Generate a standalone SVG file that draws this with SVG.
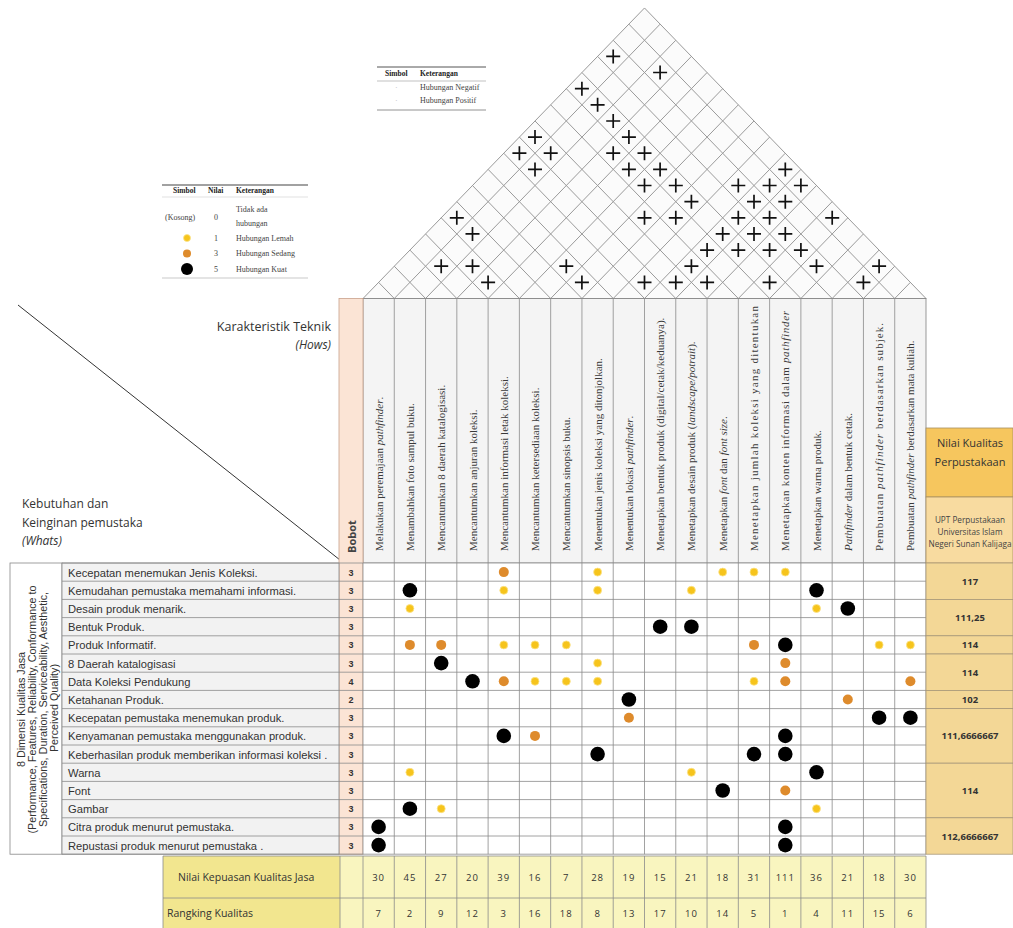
<svg xmlns="http://www.w3.org/2000/svg" width="1013" height="928" viewBox="0 0 1013 928">
<style>
.ser{font-family:"Liberation Serif","Times New Roman",serif}
.sans{font-family:"Open Sans","Liberation Sans",sans-serif}
.ar{font-family:"Liberation Sans",Arial,sans-serif}
.hdr{font-size:11px;fill:#3a3a3a}
.row{font-size:11.2px;fill:#333}
.num{font-size:9.5px;fill:#333;text-anchor:middle;letter-spacing:1px}
.bob{font-size:9px;font-weight:bold;fill:#333;text-anchor:middle}
.val{font-size:9.5px;font-weight:bold;fill:#333;text-anchor:middle}
.leg{font-size:8px;fill:#444}
.legb{font-size:7.5px;fill:#222;font-weight:bold}
.grid{stroke:#8a8a8a;stroke-width:0.8;fill:none}
.b{fill:#000}
.o{fill:#de8b2c}
.y{fill:#f6c41c;stroke:#fbe38a;stroke-width:0.8}
.i{font-style:italic}
</style>
<defs>
<path id="p" d="M-7 0H7M0 -7V7" stroke="#111" stroke-width="1.7" fill="none"/>
</defs>
<rect width="1013" height="928" fill="#fff"/>

<!-- Roof -->
<g id="roof">
<g transform="translate(363,298.5) scale(31.278,32.28)">
<path d="M0 0L9 -9L18 0Z" fill="#fbfbfb" stroke="#999" stroke-width="1" vector-effect="non-scaling-stroke"/>
<path fill="none" stroke="#9a9a9a" stroke-width="1" vector-effect="non-scaling-stroke" d="M1 0L9.5 -8.5M2 0L10 -8M3 0L10.5 -7.5M4 0L11 -7M5 0L11.5 -6.5M6 0L12 -6M7 0L12.5 -5.5M8 0L13 -5M9 0L13.5 -4.5M10 0L14 -4M11 0L14.5 -3.5M12 0L15 -3M13 0L15.5 -2.5M14 0L16 -2M15 0L16.5 -1.5M16 0L17 -1M17 0L17.5 -0.5M1 0L0.5 -0.5M2 0L1 -1M3 0L1.5 -1.5M4 0L2 -2M5 0L2.5 -2.5M6 0L3 -3M7 0L3.5 -3.5M8 0L4 -4M9 0L4.5 -4.5M10 0L5 -5M11 0L5.5 -5.5M12 0L6 -6M13 0L6.5 -6.5M14 0L7 -7M15 0L7.5 -7.5M16 0L8 -8M17 0L8.5 -8.5"/>
</g>
<use href="#p" x="613.2" y="56.4"/>
<use href="#p" x="660.1" y="72.5"/>
<use href="#p" x="581.9" y="88.7"/>
<use href="#p" x="597.6" y="104.8"/>
<use href="#p" x="613.2" y="121"/>
<use href="#p" x="535" y="137.1"/>
<use href="#p" x="628.9" y="137.1"/>
<use href="#p" x="519.4" y="153.2"/>
<use href="#p" x="550.7" y="153.2"/>
<use href="#p" x="613.2" y="153.2"/>
<use href="#p" x="644.5" y="153.2"/>
<use href="#p" x="535" y="169.4"/>
<use href="#p" x="628.9" y="169.4"/>
<use href="#p" x="660.1" y="169.4"/>
<use href="#p" x="785.3" y="169.4"/>
<use href="#p" x="644.5" y="185.5"/>
<use href="#p" x="675.8" y="185.5"/>
<use href="#p" x="738.3" y="185.5"/>
<use href="#p" x="769.6" y="185.5"/>
<use href="#p" x="800.9" y="185.5"/>
<use href="#p" x="691.4" y="201.7"/>
<use href="#p" x="754" y="201.7"/>
<use href="#p" x="785.3" y="201.7"/>
<use href="#p" x="644.5" y="217.8"/>
<use href="#p" x="675.8" y="217.8"/>
<use href="#p" x="738.3" y="217.8"/>
<use href="#p" x="769.6" y="217.8"/>
<use href="#p" x="832.2" y="217.8"/>
<use href="#p" x="456.8" y="217.8"/>
<use href="#p" x="472.5" y="233.9"/>
<use href="#p" x="722.7" y="233.9"/>
<use href="#p" x="754" y="233.9"/>
<use href="#p" x="785.3" y="233.9"/>
<use href="#p" x="707.1" y="250.1"/>
<use href="#p" x="738.3" y="250.1"/>
<use href="#p" x="769.6" y="250.1"/>
<use href="#p" x="800.9" y="250.1"/>
<use href="#p" x="441.2" y="266.2"/>
<use href="#p" x="472.5" y="266.2"/>
<use href="#p" x="566.3" y="266.2"/>
<use href="#p" x="691.4" y="266.2"/>
<use href="#p" x="816.5" y="266.2"/>
<use href="#p" x="879.1" y="266.2"/>
<use href="#p" x="488.1" y="282.4"/>
<use href="#p" x="581.9" y="282.4"/>
<use href="#p" x="644.5" y="282.4"/>
<use href="#p" x="675.8" y="282.4"/>
<use href="#p" x="707.1" y="282.4"/>
<use href="#p" x="769.6" y="282.4"/>
<use href="#p" x="863.4" y="282.4"/>
</g>

<!-- Correlation legend -->
<g id="legend-correlation" class="ser">
<path d="M377 67H486" stroke="#555" stroke-width="1"/>
<path d="M377 81H486" stroke="#999" stroke-width="0.6"/>
<path d="M377 110H486" stroke="#777" stroke-width="0.8"/>
<text x="385" y="76" class="legb">Simbol</text>
<text x="420" y="76" class="legb">Keterangan</text>
<text x="395" y="90" class="leg" style="fill:#bbb">·</text>
<text x="420" y="90" class="leg">Hubungan Negatif</text>
<text x="395" y="103" class="leg" style="fill:#bbb">·</text>
<text x="420" y="103" class="leg">Hubungan Positif</text>
</g>

<!-- Relationship legend -->
<g id="legend-relationship" class="ser">
<path d="M162 185H308" stroke="#444" stroke-width="1.2"/>
<path d="M162 197H308" stroke="#ccc" stroke-width="0.6"/>
<path d="M162 278H308" stroke="#bbb" stroke-width="0.8"/>
<text x="173" y="193" class="legb">Simbol</text>
<text x="208" y="193" class="legb">Nilai</text>
<text x="236" y="193" class="legb">Keterangan</text>
<text x="165" y="220" class="leg">(Kosong)</text>
<text x="214" y="220" class="leg">0</text>
<text x="236" y="212" class="leg">Tidak ada</text>
<text x="236" y="226" class="leg">hubungan</text>
<circle cx="187" cy="238" r="3.5" class="y"/>
<text x="214" y="240.5" class="leg">1</text>
<text x="236" y="240.5" class="leg">Hubungan Lemah</text>
<circle cx="187" cy="253.5" r="4" class="o"/>
<text x="214" y="256" class="leg">3</text>
<text x="236" y="256" class="leg">Hubungan Sedang</text>
<circle cx="187" cy="269" r="6" class="b"/>
<text x="214" y="271.5" class="leg">5</text>
<text x="236" y="271.5" class="leg">Hubungan Kuat</text>
</g>

<!-- Corner labels -->
<g id="corner" class="sans">
<path d="M18 305L340 560" stroke="#333" stroke-width="1" fill="none"/>
<text x="331" y="331" font-size="12.5" fill="#333" text-anchor="end">Karakteristik Teknik</text>
<text x="331" y="349" font-size="12" fill="#333" text-anchor="end" font-style="italic">(Hows)</text>
<text x="22" y="508" font-size="12" fill="#333">Kebutuhan dan</text>
<text x="22" y="527" font-size="12" fill="#333">Keinginan pemustaka</text>
<text x="22" y="545" font-size="12" fill="#333" font-style="italic">(Whats)</text>
</g>

<!-- Header (Hows) -->
<g id="header">
<rect x="363" y="298.5" width="563" height="264.5" fill="#f4f4f4" stroke="#808080" stroke-width="0.8"/>
<path class="grid" stroke="#808080" d="M394.28 298.5V563M425.56 298.5V563M456.83 298.5V563M488.11 298.5V563M519.39 298.5V563M550.67 298.5V563M581.94 298.5V563M613.22 298.5V563M644.5 298.5V563M675.78 298.5V563M707.06 298.5V563M738.33 298.5V563M769.61 298.5V563M800.89 298.5V563M832.17 298.5V563M863.44 298.5V563M894.72 298.5V563"/>
<g class="ser hdr">
<text x="382.6" y="551" transform="rotate(-90 382.6 551)">Melakukan peremajaan <tspan class="i">pathfinder</tspan>.</text>
<text x="413.9" y="551" transform="rotate(-90 413.9 551)">Menambahkan foto sampul buku.</text>
<text x="445.2" y="551" transform="rotate(-90 445.2 551)">Mencantumkan 8 daerah katalogisasi.</text>
<text x="476.5" y="551" transform="rotate(-90 476.5 551)">Mencantumkan anjuran koleksi.</text>
<text x="507.8" y="551" transform="rotate(-90 507.8 551)">Mencantumkan informasi letak koleksi.</text>
<text x="539" y="551" transform="rotate(-90 539 551)">Mencantumkan ketersediaan koleksi.</text>
<text x="570.3" y="551" transform="rotate(-90 570.3 551)">Mencantumkan sinopsis buku.</text>
<text x="601.6" y="551" transform="rotate(-90 601.6 551)">Menentukan jenis koleksi yang  ditonjolkan.</text>
<text x="632.9" y="551" transform="rotate(-90 632.9 551)">Menentukan lokasi <tspan class="i">pathfinder</tspan>.</text>
<text x="664.2" y="551" transform="rotate(-90 664.2 551)">Menetapkan bentuk produk (digital/cetak/keduanya).</text>
<text x="695.4" y="551" transform="rotate(-90 695.4 551)">Menetapkan desain produk (<tspan class="i">landscape/potrait</tspan>).</text>
<text x="726.7" y="551" transform="rotate(-90 726.7 551)">Menetapkan <tspan class="i">font</tspan> dan <tspan class="i">font size</tspan>.</text>
<text x="758" y="551" transform="rotate(-90 758 551)" textLength="245" lengthAdjust="spacing">Menetapkan jumlah koleksi yang ditentukan</text>
<text x="789.3" y="551" transform="rotate(-90 789.3 551)" textLength="240" lengthAdjust="spacing">Menetapkan konten informasi dalam <tspan class="i">pathfinder</tspan></text>
<text x="820.5" y="551" transform="rotate(-90 820.5 551)">Menetapkan warna produk.</text>
<text x="851.8" y="551" transform="rotate(-90 851.8 551)"><tspan class="i">Pathfinder</tspan> dalam bentuk cetak.</text>
<text x="883.1" y="551" transform="rotate(-90 883.1 551)" textLength="228" lengthAdjust="spacing">Pembuatan <tspan class="i">pathfinder</tspan> berdasarkan subjek.</text>
<text x="914.4" y="551" transform="rotate(-90 914.4 551)">Pembuatan <tspan class="i">pathfinder</tspan> berdasarkan mata kuliah.</text>
</g>
</g>

<!-- Bobot column -->
<g id="bobot">
<rect x="339" y="298.5" width="24" height="555.7" fill="#fbe4d5" stroke="#c9a08a" stroke-width="0.8"/>
<text x="355.5" y="553" transform="rotate(-90 355.5 553)" class="sans" font-size="11" font-weight="bold" fill="#444">Bobot</text>
<g class="ar bob">
<text x="351" y="575.5">3</text>
<text x="351" y="593.7">3</text>
<text x="351" y="611.9">3</text>
<text x="351" y="630.1">3</text>
<text x="351" y="648.3">3</text>
<text x="351" y="666.5">3</text>
<text x="351" y="684.7">4</text>
<text x="351" y="702.9">2</text>
<text x="351" y="721.1">3</text>
<text x="351" y="739.3">3</text>
<text x="351" y="757.5">3</text>
<text x="351" y="775.7">3</text>
<text x="351" y="793.9">3</text>
<text x="351" y="812.1">3</text>
<text x="351" y="830.3">3</text>
<text x="351" y="848.5">3</text>
</g>
</g>

<!-- Left table (Whats) -->
<g id="whats">
<rect x="10" y="563" width="52" height="291.2" fill="#fff" stroke="#888" stroke-width="0.8"/>
<rect x="62" y="563" width="277" height="291.2" fill="#f2f2f2" stroke="#888" stroke-width="0.8"/>
<text transform="translate(36,708) rotate(-90)" class="ar" font-size="10.8" fill="#333" text-anchor="middle">
<tspan x="0" y="-11">8 Dimensi Kualitas Jasa</tspan>
<tspan x="0" y="0">(Performance, Features, Reliability, Conformance to</tspan>
<tspan x="0" y="11">Specifications, Duration, Serviceability, Aesthetic,</tspan>
<tspan x="0" y="22">Perceived Quality)</tspan>
</text>
<g class="ar row">
<text x="68" y="576.5">Kecepatan menemukan Jenis Koleksi.</text>
<text x="68" y="594.7">Kemudahan pemustaka memahami informasi.</text>
<text x="68" y="612.9">Desain produk menarik.</text>
<text x="68" y="631.1">Bentuk Produk.</text>
<text x="68" y="649.3">Produk Informatif.</text>
<text x="68" y="667.5">8 Daerah katalogisasi</text>
<text x="68" y="685.7">Data Koleksi Pendukung</text>
<text x="68" y="703.9">Ketahanan Produk.</text>
<text x="68" y="722.1">Kecepatan pemustaka menemukan produk.</text>
<text x="68" y="740.3">Kenyamanan pemustaka menggunakan produk.</text>
<text x="68" y="758.5">Keberhasilan produk memberikan informasi koleksi .</text>
<text x="68" y="776.7">Warna</text>
<text x="68" y="794.9">Font</text>
<text x="68" y="813.1">Gambar</text>
<text x="68" y="831.3">Citra produk menurut pemustaka.</text>
<text x="68" y="849.5">Repustasi produk menurut pemustaka  .</text>
</g>
</g>

<!-- Matrix -->
<g id="matrix">
<rect x="363" y="563" width="563" height="291.2" fill="#fff"/>
<path class="grid" d="M62 563H926M62 581.2H926M62 599.4H926M62 617.6H926M62 635.8H926M62 654H926M62 672.2H926M62 690.4H926M62 708.6H926M62 726.8H926M62 745H926M62 763.2H926M62 781.4H926M62 799.6H926M62 817.8H926M62 836H926M62 854.2H926"/>
<path class="grid" stroke="#777" d="M363 563V854.2M394.28 563V854.2M425.56 563V854.2M456.83 563V854.2M488.11 563V854.2M519.39 563V854.2M550.67 563V854.2M581.94 563V854.2M613.22 563V854.2M644.5 563V854.2M675.78 563V854.2M707.06 563V854.2M738.33 563V854.2M769.61 563V854.2M800.89 563V854.2M832.17 563V854.2M863.44 563V854.2M894.72 563V854.2M926 563V854.2"/>
<circle cx="503.8" cy="572.1" r="5" class="o"/>
<circle cx="597.6" cy="572.1" r="4" class="y"/>
<circle cx="722.7" cy="572.1" r="4" class="y"/>
<circle cx="754" cy="572.1" r="4" class="y"/>
<circle cx="785.3" cy="572.1" r="4" class="y"/>
<circle cx="409.9" cy="590.3" r="7.3" class="b"/>
<circle cx="503.8" cy="590.3" r="4" class="y"/>
<circle cx="597.6" cy="590.3" r="4" class="y"/>
<circle cx="691.4" cy="590.3" r="4" class="y"/>
<circle cx="816.5" cy="590.3" r="7.3" class="b"/>
<circle cx="409.9" cy="608.5" r="4" class="y"/>
<circle cx="816.5" cy="608.5" r="4" class="y"/>
<circle cx="847.8" cy="608.5" r="7.3" class="b"/>
<circle cx="660.2" cy="626.7" r="7.3" class="b"/>
<circle cx="691.4" cy="626.7" r="7.3" class="b"/>
<circle cx="409.9" cy="644.9" r="5" class="o"/>
<circle cx="441.2" cy="644.9" r="5" class="o"/>
<circle cx="503.8" cy="644.9" r="4" class="y"/>
<circle cx="535" cy="644.9" r="4" class="y"/>
<circle cx="566.3" cy="644.9" r="4" class="y"/>
<circle cx="754" cy="644.9" r="5" class="o"/>
<circle cx="785.3" cy="644.9" r="7.3" class="b"/>
<circle cx="879.1" cy="644.9" r="4" class="y"/>
<circle cx="910.4" cy="644.9" r="4" class="y"/>
<circle cx="441.2" cy="663.1" r="7.3" class="b"/>
<circle cx="597.6" cy="663.1" r="4" class="y"/>
<circle cx="785.3" cy="663.1" r="5" class="o"/>
<circle cx="472.5" cy="681.3" r="7.3" class="b"/>
<circle cx="503.8" cy="681.3" r="5" class="o"/>
<circle cx="535" cy="681.3" r="4" class="y"/>
<circle cx="566.3" cy="681.3" r="4" class="y"/>
<circle cx="597.6" cy="681.3" r="4" class="y"/>
<circle cx="754" cy="681.3" r="4" class="y"/>
<circle cx="785.3" cy="681.3" r="5" class="o"/>
<circle cx="910.4" cy="681.3" r="5" class="o"/>
<circle cx="628.9" cy="699.5" r="7.3" class="b"/>
<circle cx="847.8" cy="699.5" r="5" class="o"/>
<circle cx="628.9" cy="717.7" r="5" class="o"/>
<circle cx="879.1" cy="717.7" r="7.3" class="b"/>
<circle cx="910.4" cy="717.7" r="7.3" class="b"/>
<circle cx="503.8" cy="735.9" r="7.3" class="b"/>
<circle cx="535" cy="735.9" r="5" class="o"/>
<circle cx="785.3" cy="735.9" r="7.3" class="b"/>
<circle cx="597.6" cy="754.1" r="7.3" class="b"/>
<circle cx="754" cy="754.1" r="7.3" class="b"/>
<circle cx="785.3" cy="754.1" r="7.3" class="b"/>
<circle cx="409.9" cy="772.3" r="4" class="y"/>
<circle cx="691.4" cy="772.3" r="4" class="y"/>
<circle cx="816.5" cy="772.3" r="7.3" class="b"/>
<circle cx="722.7" cy="790.5" r="7.3" class="b"/>
<circle cx="785.3" cy="790.5" r="5" class="o"/>
<circle cx="409.9" cy="808.7" r="7.3" class="b"/>
<circle cx="441.2" cy="808.7" r="4" class="y"/>
<circle cx="816.5" cy="808.7" r="4" class="y"/>
<circle cx="378.6" cy="826.9" r="7.3" class="b"/>
<circle cx="785.3" cy="826.9" r="7.3" class="b"/>
<circle cx="378.6" cy="845.1" r="7.3" class="b"/>
<circle cx="785.3" cy="845.1" r="7.3" class="b"/>
</g>

<!-- Right column -->
<g id="quality" class="sans">
<rect x="926" y="428" width="87" height="69" fill="#f6c65e" stroke="#a89060" stroke-width="0.8"/>
<text x="970" y="447" font-size="11" fill="#333" text-anchor="middle">Nilai Kualitas</text>
<text x="970" y="466" font-size="11" fill="#333" text-anchor="middle">Perpustakaan</text>
<rect x="926" y="497" width="87" height="66" fill="#f8dba0" stroke="#a89060" stroke-width="0.8"/>
<text x="970" y="523" font-size="8.2" fill="#444" text-anchor="middle">UPT Perpustakaan</text>
<text x="970" y="535" font-size="8.2" fill="#444" text-anchor="middle">Universitas Islam</text>
<text x="970" y="547" font-size="8.2" fill="#444" text-anchor="middle">Negeri Sunan Kalijaga</text>
<g fill="#f3d796" stroke="#a89878" stroke-width="0.8">
<rect x="926" y="563" width="87" height="36.4"/>
<rect x="926" y="599.4" width="87" height="36.4"/>
<rect x="926" y="635.8" width="87" height="18.2"/>
<rect x="926" y="654" width="87" height="36.4"/>
<rect x="926" y="690.4" width="87" height="18.2"/>
<rect x="926" y="708.6" width="87" height="54.6"/>
<rect x="926" y="763.2" width="87" height="54.6"/>
<rect x="926" y="817.8" width="87" height="36.4"/>
</g>
<g class="val">
<text x="970" y="584.7">117</text>
<text x="970" y="621.1">111,25</text>
<text x="970" y="648.4">114</text>
<text x="970" y="675.7">114</text>
<text x="970" y="703">102</text>
<text x="970" y="739.4">111,6666667</text>
<text x="970" y="794">114</text>
<text x="970" y="839.5">112,6666667</text>
</g>
</g>

<!-- Bottom rows -->
<g id="totals" class="sans">
<rect x="340" y="856" width="586" height="72" fill="#f9f5bf"/>
<rect x="163" y="856" width="177" height="42" fill="#f2e68f"/>
<rect x="163" y="898" width="177" height="30" fill="#f2e68f"/>
<path class="grid" stroke="#888" d="M163 856H926M163 898H926M163 856V928M340 856V928M363 856V928M394.28 856V928M425.56 856V928M456.83 856V928M488.11 856V928M519.39 856V928M550.67 856V928M581.94 856V928M613.22 856V928M644.5 856V928M675.78 856V928M707.06 856V928M738.33 856V928M769.61 856V928M800.89 856V928M832.17 856V928M863.44 856V928M894.72 856V928M926 856V928"/>
<text x="178" y="881" font-size="10.5" fill="#333">Nilai Kepuasan Kualitas Jasa</text>
<text x="167" y="917" font-size="10.5" fill="#333">Rangking Kualitas</text>
<g class="num">
<text x="378.6" y="881">30</text><text x="409.9" y="881">45</text><text x="441.2" y="881">27</text><text x="472.5" y="881">20</text><text x="503.8" y="881">39</text><text x="535" y="881">16</text><text x="566.3" y="881">7</text><text x="597.6" y="881">28</text><text x="628.9" y="881">19</text><text x="660.2" y="881">15</text><text x="691.4" y="881">21</text><text x="722.7" y="881">18</text><text x="754" y="881">31</text><text x="785.3" y="881">111</text><text x="816.5" y="881">36</text><text x="847.8" y="881">21</text><text x="879.1" y="881">18</text><text x="910.4" y="881">30</text>
<text x="378.6" y="917">7</text><text x="409.9" y="917">2</text><text x="441.2" y="917">9</text><text x="472.5" y="917">12</text><text x="503.8" y="917">3</text><text x="535" y="917">16</text><text x="566.3" y="917">18</text><text x="597.6" y="917">8</text><text x="628.9" y="917">13</text><text x="660.2" y="917">17</text><text x="691.4" y="917">10</text><text x="722.7" y="917">14</text><text x="754" y="917">5</text><text x="785.3" y="917">1</text><text x="816.5" y="917">4</text><text x="847.8" y="917">11</text><text x="879.1" y="917">15</text><text x="910.4" y="917">6</text>
</g>
</g>
</svg>
